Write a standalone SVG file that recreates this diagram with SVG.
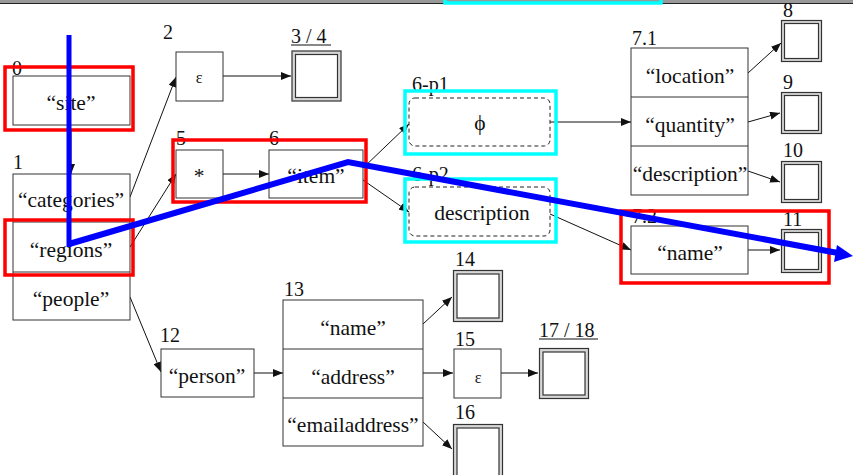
<svg xmlns="http://www.w3.org/2000/svg" width="853" height="475" viewBox="0 0 853 475">
  <style>
    .box { fill: #fff; stroke: #333; stroke-width: 1; }
    .lbl { font-family: "Liberation Serif", "Times New Roman", serif; font-size: 20px; fill: #111; }
    .txt { font-family: "Liberation Serif", "Times New Roman", serif; font-size: 21.5px; fill: #111; text-anchor: middle; }
    .eps { font-family: "Liberation Serif", "Times New Roman", serif; font-size: 16px; fill: #111; text-anchor: middle; }
    .fin-outer { fill: #d8d8d8; stroke: #333; stroke-width: 1.2; }
    .fin-inner { fill: #fff; stroke: #333; stroke-width: 1.2; }
    .dash { fill: #fff; stroke: #222; stroke-width: 1; stroke-dasharray: 4 3; }
    .hl-red { fill: none; stroke: #ff0000; stroke-width: 3.5; }
    .hl-cyan { fill: none; stroke: #00ffff; stroke-width: 3.5; }
    .edge { stroke: #111; stroke-width: 1; fill: none; marker-end: url(#arr); }
    .ul { stroke: #111; stroke-width: 1; }
  </style>
  <defs>
    <marker id="arr" viewBox="0 0 10 8" refX="10" refY="4" markerWidth="10" markerHeight="8" markerUnits="userSpaceOnUse" orient="auto">
      <path d="M0,0 L10,4 L0,8 z" fill="#111"/>
    </marker>
  </defs>

  <rect x="0" y="0" width="853" height="475" fill="#fff"/>
  <!-- window frame along the top -->
  <rect x="0" y="0" width="853" height="3" fill="#999"/>
  <line x1="0" y1="3.5" x2="853" y2="3.5" stroke="#222" stroke-width="1"/>

  <!-- connectors -->
  <g id="edges">
    <line class="edge" x1="71" y1="131" x2="71" y2="174"/>
    <line class="edge" x1="130" y1="197" x2="176" y2="77"/>
    <line class="edge" x1="130" y1="247" x2="176" y2="174"/>
    <line class="edge" x1="130" y1="297" x2="161" y2="372"/>
    <line class="edge" x1="223" y1="76" x2="291" y2="76"/>
    <line class="edge" x1="223" y1="174" x2="269" y2="174"/>
    <line class="edge" x1="363" y1="168" x2="409" y2="124"/>
    <line class="edge" x1="363" y1="180" x2="409" y2="212"/>
    <line class="edge" x1="550" y1="122" x2="631" y2="122"/>
    <line class="edge" x1="550" y1="214" x2="631" y2="250"/>
    <line class="edge" x1="748" y1="73" x2="781" y2="43"/>
    <line class="edge" x1="748" y1="122" x2="780" y2="113"/>
    <line class="edge" x1="748" y1="171" x2="780" y2="182"/>
    <line class="edge" x1="748" y1="250" x2="780" y2="250"/>
    <line class="edge" x1="254" y1="373" x2="283" y2="373"/>
    <line class="edge" x1="423" y1="324" x2="452" y2="297"/>
    <line class="edge" x1="423" y1="373" x2="453" y2="373"/>
    <line class="edge" x1="423" y1="422" x2="452" y2="449"/>
    <line class="edge" x1="501" y1="373" x2="538" y2="373"/>
  </g>

  <!-- 0: site -->
  <g id="n0">
    <text class="lbl" x="12" y="75">0</text>
    <rect class="box" x="13" y="76" width="117" height="49"/>
    <text class="txt" x="71" y="110">“site”</text>
  </g>

  <!-- 1: categories / regions / people -->
  <g id="n1">
    <text class="lbl" x="13" y="169">1</text>
    <rect class="box" x="13" y="174" width="117" height="146"/>
    <line class="box" x1="13" y1="222" x2="130" y2="222"/>
    <line class="box" x1="13" y1="272" x2="130" y2="272"/>
    <text class="txt" x="71" y="207">“categories”</text>
    <text class="txt" x="71" y="257">“regions”</text>
    <text class="txt" x="71" y="306">“people”</text>
  </g>

  <!-- 2: epsilon -->
  <g id="n2">
    <text class="lbl" x="163" y="39">2</text>
    <rect class="box" x="176" y="52" width="47" height="49"/>
    <text class="eps" x="199" y="83">ε</text>
  </g>

  <!-- 3 / 4: final -->
  <g id="n3">
    <text class="lbl" x="291" y="43">3 / 4</text>
    <line class="ul" x1="291" y1="45" x2="331" y2="45"/>
    <rect class="fin-outer" x="292" y="51" width="49" height="50"/>
    <rect class="fin-inner" x="295.5" y="54.5" width="42" height="43"/>
  </g>

  <!-- 5: star -->
  <g id="n5">
    <text class="lbl" x="176" y="145">5</text>
    <rect class="box" x="176" y="150" width="47" height="48"/>
    <text class="txt" x="199" y="183">*</text>
  </g>

  <!-- 6: item -->
  <g id="n6">
    <text class="lbl" x="269" y="145">6</text>
    <rect class="box" x="269" y="150" width="94" height="48"/>
    <text class="txt" x="316" y="183">“item”</text>
  </g>

  <!-- 6-p1 -->
  <g id="n6p1">
    <text class="lbl" x="412" y="91">6-p1</text>
    <rect class="dash" x="409" y="98" width="141" height="48" rx="6"/>
    <text class="txt" x="480" y="130">ϕ</text>
  </g>

  <!-- 6-p2 -->
  <g id="n6p2">
    <text class="lbl" x="412" y="181">6-p2</text>
    <rect class="dash" x="409" y="187" width="141" height="49" rx="6"/>
    <text class="txt" x="482" y="220">description</text>
  </g>

  <!-- 7.1 -->
  <g id="n71">
    <text class="lbl" x="632" y="45">7.1</text>
    <rect class="box" x="631" y="48" width="117" height="147"/>
    <line class="box" x1="631" y1="97" x2="748" y2="97"/>
    <line class="box" x1="631" y1="146" x2="748" y2="146"/>
    <text class="txt" x="690" y="83">“location”</text>
    <text class="txt" x="690" y="132">“quantity”</text>
    <text class="txt" x="690" y="181">“description”</text>
  </g>

  <!-- 7.2 -->
  <g id="n72">
    <text class="lbl" x="632" y="223">7.2</text>
    <rect class="box" x="631" y="226" width="117" height="48"/>
    <text class="txt" x="690" y="260">“name”</text>
  </g>

  <!-- finals 8 to 11 -->
  <g id="n8">
    <text class="lbl" x="783" y="17">8</text>
    <rect class="fin-outer" x="781.5" y="20.5" width="40" height="41"/>
    <rect class="fin-inner" x="784.5" y="23.5" width="34" height="35"/>
  </g>
  <g id="n9">
    <text class="lbl" x="783" y="89">9</text>
    <rect class="fin-outer" x="781.5" y="92.5" width="40" height="41"/>
    <rect class="fin-inner" x="784.5" y="95.5" width="34" height="35"/>
  </g>
  <g id="n10">
    <text class="lbl" x="783" y="157">10</text>
    <rect class="fin-outer" x="781.5" y="161.5" width="40" height="41"/>
    <rect class="fin-inner" x="784.5" y="164.5" width="34" height="35"/>
  </g>
  <g id="n11">
    <text class="lbl" x="783" y="226">11</text>
    <rect class="fin-outer" x="781.5" y="229.5" width="40" height="43"/>
    <rect class="fin-inner" x="784.5" y="232.5" width="34" height="37"/>
  </g>

  <!-- 12: person -->
  <g id="n12">
    <text class="lbl" x="160" y="342">12</text>
    <rect class="box" x="161" y="349" width="93" height="48"/>
    <text class="txt" x="207" y="383">“person”</text>
  </g>

  <!-- 13: name / address / emailaddress -->
  <g id="n13">
    <text class="lbl" x="284" y="296">13</text>
    <rect class="box" x="283" y="300" width="140" height="146"/>
    <line class="box" x1="283" y1="349" x2="423" y2="349"/>
    <line class="box" x1="283" y1="398" x2="423" y2="398"/>
    <text class="txt" x="353" y="335">“name”</text>
    <text class="txt" x="353" y="384">“address”</text>
    <text class="txt" x="353" y="432">“emailaddress”</text>
  </g>

  <!-- 14 -->
  <g id="n14">
    <text class="lbl" x="455" y="266">14</text>
    <rect class="fin-outer" x="453.5" y="270.5" width="49" height="51"/>
    <rect class="fin-inner" x="457" y="274" width="42" height="44"/>
  </g>

  <!-- 15: epsilon -->
  <g id="n15">
    <text class="lbl" x="455" y="346">15</text>
    <rect class="box" x="454" y="349" width="47" height="49"/>
    <text class="eps" x="478" y="383">ε</text>
  </g>

  <!-- 16 -->
  <g id="n16">
    <text class="lbl" x="455" y="419">16</text>
    <rect class="fin-outer" x="453.5" y="424.5" width="49" height="56"/>
    <rect class="fin-inner" x="457" y="428" width="42" height="49"/>
  </g>

  <!-- 17 / 18 -->
  <g id="n17">
    <text class="lbl" x="539" y="337">17 / 18</text>
    <line class="ul" x1="539" y1="339" x2="598" y2="339"/>
    <rect class="fin-outer" x="539.5" y="348.5" width="49" height="50"/>
    <rect class="fin-inner" x="543" y="352" width="42" height="43"/>
  </g>

  <!-- highlight frames -->
  <g id="highlights">
    <rect class="hl-red" x="5" y="67" width="128" height="63"/>
    <rect class="hl-red" x="5" y="220" width="128" height="55"/>
    <rect class="hl-red" x="173" y="140" width="193" height="62"/>
    <rect class="hl-red" x="621" y="211" width="208" height="72"/>
    <rect class="hl-cyan" x="405" y="91" width="151" height="63"/>
    <rect class="hl-cyan" x="405" y="179" width="151" height="63"/>
    <rect class="hl-cyan" x="445" y="-20" width="216" height="23"/>
  </g>

  <!-- traced path -->
  <g id="trace">
    <line x1="69" y1="35" x2="69" y2="247" stroke="#0000ff" stroke-width="5"/>
    <polyline points="69,244 348,162 838,253" fill="none" stroke="#0000ff" stroke-width="6" stroke-linejoin="miter"/>
    <path d="M853,256 L834,262 L837,245 z" fill="#0000ff"/>
  </g>
</svg>
